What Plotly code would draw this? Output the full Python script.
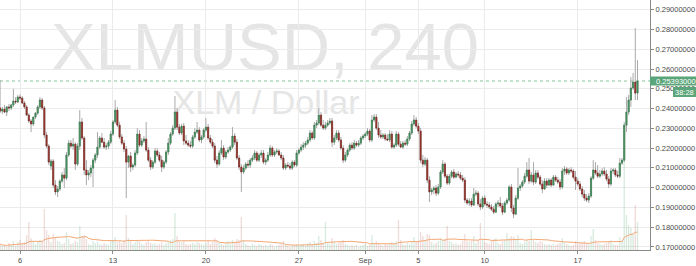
import pandas as pd
import plotly.graph_objects as go

times = pd.date_range("2018-08-04 12:00", periods=289, freq="4h")

open_ = [
    .2403, .2387, .2397, .2382, .2408, .2403, .2418, .2438, .2433, .2458,
    .2453, .2428, .2408, .2367, .2337, .2322, .2357, .2377, .2408, .2443,
    .2403, .2266, .2210, .2109, .2134, .2013, .1978, .1993, .2033, .2064,
    .2048, .2165, .2225, .2210, .2220, .2119, .2210, .2332, .2251, .2089,
    .2064, .2074, .2099, .2139, .2165, .2205, .2251, .2230, .2205, .2210,
    .2230, .2271, .2332, .2392, .2316, .2256, .2225, .2195, .2129, .2160,
    .2104, .2114, .2175, .2271, .2215, .2236, .2246, .2190, .2139, .2104,
    .2129, .2185, .2165, .2139, .2104, .2129, .2180, .2225, .2271, .2301,
    .2382, .2306, .2276, .2311, .2236, .2225, .2215, .2210, .2256, .2281,
    .2291, .2241, .2256, .2291, .2306, .2251, .2230, .2210, .2139, .2119,
    .2175, .2200, .2155, .2180, .2190, .2205, .2261, .2230, .2150, .2104,
    .2079, .2099, .2119, .2114, .2139, .2150, .2175, .2139, .2165, .2175,
    .2129, .2139, .2165, .2200, .2165, .2180, .2185, .2165, .2150, .2099,
    .2114, .2109, .2099, .2129, .2114, .2175, .2190, .2205, .2215, .2225,
    .2241, .2276, .2251, .2316, .2327, .2367, .2316, .2301, .2316, .2327,
    .2337, .2230, .2251, .2276, .2241, .2200, .2139, .2165, .2190, .2215,
    .2200, .2225, .2215, .2225, .2251, .2261, .2271, .2286, .2241, .2342,
    .2357, .2301, .2266, .2256, .2266, .2246, .2241, .2271, .2205, .2215,
    .2271, .2220, .2205, .2225, .2220, .2246, .2276, .2322, .2342, .2311,
    .2286, .2139, .2119, .2139, .2038, .1978, .1988, .1998, .1972, .2003,
    .2079, .2119, .2058, .2023, .2058, .2079, .2053, .2069, .2064, .2048,
    .2038, .1937, .1922, .1932, .1912, .1967, .1972, .1917, .1902, .1947,
    .1917, .1912, .1902, .1891, .1876, .1917, .1922, .1907, .1876, .1922,
    .1937, .2003, .1897, .1866, .1947, .1998, .2008, .2028, .2058, .2089,
    .2033, .2064, .2028, .2074, .2053, .2018, .1993, .2033, .2013, .2038,
    .2013, .2053, .2038, .2028, .2003, .2084, .2094, .2074, .2089, .2084,
    .2053, .2033, .2018, .1993, .1967, .1947, .1937, .1957, .2048, .2089,
    .2074, .2058, .2069, .2084, .2069, .2043, .2018, .2084, .2089, .2064,
    .2058, .2124, .2139, .2316, .2382, .2443, .2504, .2534, .2478,
]

high = [
    .2544, .2408, .2418, .2413, .2423, .2423, .2499, .2458, .2468, .2473,
    .2463, .2438, .2418, .2377, .2347, .2357, .2382, .2418, .2458, .2453,
    .2413, .2281, .2220, .2144, .2144, .2038, .2008, .2043, .2079, .2099,
    .2180, .2241, .2241, .2251, .2230, .2225, .2392, .2352, .2261, .2139,
    .2089, .2114, .2150, .2175, .2281, .2261, .2276, .2251, .2225, .2241,
    .2286, .2342, .2443, .2408, .2332, .2271, .2241, .2210, .2165, .2180,
    .2124, .2190, .2301, .2291, .2251, .2261, .2332, .2205, .2155, .2139,
    .2200, .2200, .2180, .2160, .2139, .2190, .2251, .2281, .2316, .2463,
    .2403, .2322, .2322, .2327, .2266, .2241, .2236, .2266, .2301, .2332,
    .2306, .2266, .2301, .2352, .2322, .2266, .2246, .2225, .2160, .2190,
    .2241, .2215, .2190, .2205, .2215, .2306, .2276, .2246, .2165, .2119,
    .2114, .2129, .2139, .2150, .2165, .2190, .2185, .2175, .2190, .2190,
    .2150, .2180, .2215, .2210, .2190, .2200, .2195, .2180, .2165, .2124,
    .2129, .2124, .2139, .2139, .2190, .2200, .2220, .2230, .2236, .2256,
    .2291, .2286, .2332, .2342, .2403, .2382, .2342, .2332, .2342, .2352,
    .2352, .2266, .2291, .2291, .2256, .2215, .2180, .2200, .2225, .2230,
    .2241, .2236, .2241, .2261, .2271, .2281, .2301, .2296, .2367, .2372,
    .2372, .2332, .2291, .2276, .2276, .2271, .2291, .2286, .2225, .2286,
    .2281, .2236, .2236, .2241, .2261, .2286, .2337, .2367, .2357, .2327,
    .2301, .2165, .2155, .2150, .2058, .1998, .2008, .2013, .2018, .2089,
    .2139, .2129, .2069, .2069, .2089, .2094, .2079, .2084, .2079, .2064,
    .2053, .1947, .1947, .1947, .1998, .1988, .1983, .1942, .1957, .1962,
    .1932, .1927, .1917, .1907, .1927, .1937, .1952, .1922, .1932, .1947,
    .2013, .2018, .1912, .1962, .2099, .2018, .2038, .2074, .2129, .2150,
    .2079, .2129, .2089, .2089, .2064, .2038, .2048, .2048, .2048, .2048,
    .2064, .2064, .2053, .2043, .2099, .2109, .2104, .2099, .2104, .2094,
    .2084, .2048, .2033, .2008, .1988, .1967, .1972, .2058, .2139, .2129,
    .2114, .2089, .2099, .2104, .2089, .2058, .2099, .2099, .2099, .2084,
    .2150, .2150, .2332, .2458, .2468, .2559, .2580, .2807, .2645,
]

low = [
    .2377, .2372, .2377, .2362, .2387, .2392, .2408, .2423, .2428, .2443,
    .2423, .2397, .2362, .2327, .2281, .2311, .2347, .2367, .2397, .2392,
    .2251, .2200, .2114, .2089, .1998, .1962, .1952, .1983, .2023, .1998,
    .2038, .2155, .2200, .2190, .2089, .2109, .2190, .2241, .2064, .2013,
    .2038, .2053, .2003, .2124, .2150, .2195, .2225, .2195, .2190, .2195,
    .2220, .2261, .2322, .2306, .2246, .2215, .2180, .1947, .2099, .2079,
    .2089, .2104, .2165, .2205, .2205, .2225, .2180, .2129, .2089, .2094,
    .2119, .2155, .2129, .2079, .2094, .2119, .2165, .2215, .2261, .2291,
    .2291, .2266, .2266, .2215, .2215, .2205, .2200, .2200, .2246, .2271,
    .2230, .2225, .2246, .2281, .2241, .2220, .2200, .2124, .2099, .2109,
    .2165, .2139, .2144, .2170, .2180, .2195, .2215, .2139, .2089, .1978,
    .2069, .2089, .2099, .2099, .2129, .2139, .2129, .2129, .2150, .2119,
    .2114, .2129, .2155, .2155, .2155, .2170, .2160, .2139, .2089, .2089,
    .2099, .2089, .2089, .2104, .2104, .2165, .2180, .2190, .2200, .2215,
    .2230, .2241, .2241, .2301, .2316, .2306, .2291, .2291, .2306, .2316,
    .2205, .2215, .2241, .2230, .2190, .2124, .2129, .2155, .2180, .2190,
    .2190, .2205, .2205, .2215, .2241, .2251, .2261, .2230, .2230, .2332,
    .2291, .2251, .2246, .2246, .2236, .2236, .2230, .2195, .2195, .2205,
    .2210, .2200, .2195, .2210, .2210, .2236, .2266, .2311, .2301, .2271,
    .2124, .2104, .2109, .2023, .1927, .1962, .1967, .1957, .1962, .1993,
    .2069, .2048, .2013, .2013, .2048, .2043, .2048, .2053, .2038, .2028,
    .1922, .1912, .1907, .1902, .1907, .1957, .1907, .1886, .1891, .1907,
    .1897, .1891, .1881, .1866, .1871, .1902, .1897, .1861, .1871, .1912,
    .1927, .1876, .1846, .1861, .1937, .1983, .1998, .2018, .2048, .2018,
    .2023, .2013, .2018, .2043, .2008, .1972, .1988, .1998, .2008, .2003,
    .2008, .2028, .2018, .1988, .1993, .2064, .2064, .2064, .2074, .2043,
    .1988, .2008, .1983, .1952, .1932, .1927, .1922, .1947, .2038, .2064,
    .2048, .2048, .2058, .2058, .2033, .1998, .2008, .2069, .2053, .2048,
    .2048, .2114, .2129, .2281, .2367, .2408, .2494, .2443, .2443,
]

close = [
    .2387, .2397, .2382, .2408, .2403, .2418, .2438, .2433, .2458, .2453,
    .2428, .2408, .2367, .2337, .2322, .2357, .2377, .2408, .2443, .2403,
    .2266, .2210, .2129, .2134, .2013, .1978, .1993, .2033, .2064, .2048,
    .2165, .2225, .2210, .2220, .2119, .2210, .2332, .2251, .2089, .2064,
    .2074, .2099, .2139, .2165, .2205, .2251, .2230, .2205, .2210, .2230,
    .2271, .2332, .2392, .2316, .2256, .2225, .2195, .2129, .2160, .2104,
    .2114, .2175, .2271, .2215, .2236, .2246, .2190, .2139, .2104, .2129,
    .2185, .2165, .2139, .2104, .2129, .2180, .2225, .2271, .2301, .2382,
    .2306, .2276, .2311, .2236, .2225, .2215, .2210, .2256, .2281, .2291,
    .2241, .2256, .2291, .2306, .2251, .2230, .2210, .2139, .2119, .2175,
    .2200, .2155, .2180, .2190, .2205, .2261, .2230, .2150, .2104, .2079,
    .2099, .2119, .2114, .2139, .2150, .2175, .2139, .2165, .2175, .2129,
    .2139, .2165, .2200, .2165, .2180, .2185, .2165, .2150, .2099, .2114,
    .2109, .2099, .2129, .2114, .2175, .2190, .2205, .2215, .2225, .2241,
    .2276, .2251, .2316, .2327, .2367, .2316, .2301, .2316, .2327, .2337,
    .2230, .2251, .2276, .2241, .2200, .2139, .2165, .2190, .2215, .2200,
    .2225, .2215, .2225, .2251, .2261, .2271, .2286, .2241, .2342, .2357,
    .2301, .2266, .2256, .2266, .2246, .2241, .2271, .2205, .2215, .2271,
    .2220, .2205, .2225, .2220, .2246, .2276, .2322, .2342, .2311, .2286,
    .2139, .2119, .2139, .2038, .1978, .1988, .1998, .1972, .2003, .2079,
    .2119, .2058, .2023, .2058, .2079, .2053, .2069, .2064, .2048, .2038,
    .1937, .1922, .1932, .1912, .1967, .1972, .1917, .1902, .1947, .1917,
    .1912, .1902, .1891, .1876, .1917, .1922, .1907, .1876, .1922, .1937,
    .2003, .1897, .1866, .1947, .1998, .2008, .2028, .2058, .2089, .2033,
    .2064, .2028, .2074, .2053, .2018, .1993, .2033, .2013, .2038, .2013,
    .2053, .2038, .2028, .2003, .2084, .2094, .2074, .2089, .2084, .2053,
    .2033, .2018, .1993, .1967, .1947, .1937, .1957, .2048, .2089, .2074,
    .2058, .2069, .2084, .2069, .2043, .2018, .2084, .2089, .2064, .2058,
    .2124, .2139, .2316, .2382, .2443, .2504, .2534, .2478, .25393,
]

# volume in millions of XLM
volume = [
    0.6, 0.4, 0.5, 0.3, 0.7, 0.5, 0.9, 0.4, 0.8, 1.0,
    0.6, 0.8, 1.5, 2.8, 1.2, 0.9, 0.6, 0.8, 1.0, 0.9,
    4.1, 2.0, 1.5, 0.8, 1.6, 1.3, 0.9, 0.8, 0.6, 0.7,
    1.8, 1.1, 0.6, 0.7, 0.9, 0.8, 2.4, 1.4, 1.5, 1.1,
    0.6, 0.5, 0.9, 0.7, 0.8, 0.6, 0.5, 0.7, 0.6, 0.5,
    0.9, 1.0, 1.3, 0.8, 0.9, 0.7, 1.0, 3.5, 1.2, 0.9,
    0.6, 0.8, 1.0, 0.9, 0.6, 0.5, 0.8, 0.9, 0.7, 0.6,
    0.7, 0.5, 0.6, 0.8, 0.5, 0.7, 0.8, 1.0, 1.1, 3.7,
    1.4, 0.9, 0.8, 0.9, 0.6, 0.5, 0.6, 0.7, 0.6, 0.8,
    0.7, 0.6, 0.5, 0.7, 0.9, 0.6, 0.8, 1.2, 0.9, 0.7,
    0.6, 0.5, 0.8, 0.9, 0.6, 1.0, 0.8, 1.1, 1.0, 3.3,
    1.0, 0.6, 0.5, 0.4, 0.6, 0.5, 0.4, 0.6, 0.5, 0.4,
    0.5, 0.4, 0.6, 0.5, 0.3, 0.4, 0.5, 0.6, 0.9, 0.5,
    0.4, 0.3, 0.4, 0.5, 0.6, 0.4, 0.5, 0.6, 0.4, 0.7,
    0.8, 0.6, 0.9, 0.7, 1.4, 1.0, 0.6, 2.8, 0.7, 0.6,
    1.2, 0.8, 0.6, 0.7, 0.9, 1.0, 0.6, 0.5, 0.4, 0.5,
    0.4, 0.5, 0.3, 0.4, 0.5, 0.6, 0.4, 0.5, 1.5, 0.6,
    0.9, 0.7, 0.5, 0.4, 0.6, 0.5, 0.7, 0.8, 0.6, 0.9,
    3.0, 1.0, 0.6, 0.5, 0.7, 0.6, 0.9, 1.3, 0.8, 0.9,
    1.8, 1.4, 0.9, 1.6, 1.5, 0.8, 0.6, 0.7, 0.9, 1.2,
    1.0, 1.1, 2.4, 0.9, 0.8, 0.6, 0.7, 0.5, 0.6, 0.9,
    1.6, 0.9, 0.8, 0.9, 1.4, 0.7, 1.0, 2.7, 1.0, 0.8,
    0.7, 0.6, 0.9, 1.1, 1.2, 0.7, 0.6, 0.9, 1.0, 1.7,
    1.2, 1.4, 1.3, 1.0, 1.5, 0.7, 0.6, 0.8, 1.0, 0.9,
    2.0, 1.0, 0.8, 0.7, 0.9, 0.8, 0.6, 0.5, 0.6, 0.5,
    0.6, 0.5, 0.6, 0.7, 1.2, 0.8, 0.6, 0.5, 0.4, 0.5,
    0.9, 0.6, 0.7, 0.8, 0.9, 0.7, 0.6, 1.4, 2.1, 1.0,
    0.7, 0.6, 0.5, 0.6, 0.7, 0.9, 1.0, 0.6, 0.5, 0.5,
    1.3, 0.9, 9.0, 3.5, 2.5, 2.2, 1.6, 4.5, 2.8,
]

price_ticks = [0.17, 0.18, 0.19, 0.20, 0.21, 0.22, 0.23, 0.24, 0.25, 0.26, 0.27, 0.28, 0.29]
price_tick_text = [f"{v:.8f}" for v in price_ticks]
date_ticks = ["2018-08-06", "2018-08-13", "2018-08-20", "2018-08-27",
              "2018-09-01", "2018-09-05", "2018-09-10", "2018-09-17"]
date_tick_text = ["6", "13", "20", "27", "Sep", "5", "10", "17"]
last_price = 0.25393
last_price_text = "0.25393000"
countdown = "38:28"
title_text = "XLMUSD, 240"
subtitle_text = "XLM / Dollar"
y_range = [0.16845, 0.2949]
x_range = ["2018-08-04 11:51", "2018-09-22 10:35"]
vol_range = [0, 25]

UP = "#4e9e68"
UP_LINE = "#2f7a48"
DOWN = "#a8382f"
DOWN_LINE = "#7a211b"
FONT = "Liberation Sans, Arial, sans-serif"

vol_ma = pd.Series(volume).rolling(20, min_periods=1).mean()
vol_colors = ["rgba(78,158,104,0.22)" if c >= o else "rgba(168,56,47,0.18)"
              for o, c in zip(open_, close)]
body_hi = [max(o, c) for o, c in zip(open_, close)]
body_lo = [min(o, c) for o, c in zip(open_, close)]

fig = go.Figure()
fig.add_trace(go.Bar(x=times, y=volume, yaxis="y2", marker=dict(color=vol_colors, line=dict(width=0)),
                     width=4 * 3600 * 1000 * 0.6, hoverinfo="skip", showlegend=False))
fig.add_trace(go.Scatter(x=times, y=vol_ma, yaxis="y2", mode="lines",
                         line=dict(color="#f3a874", width=1), hoverinfo="skip", showlegend=False))
# wicks
fig.add_trace(go.Candlestick(
    x=times, open=open_, high=high, low=low, close=close,
    increasing=dict(line=dict(color="#a9a9a9", width=1), fillcolor="rgba(0,0,0,0)"),
    decreasing=dict(line=dict(color="#a9a9a9", width=1), fillcolor="rgba(0,0,0,0)"),
    whiskerwidth=0, hoverinfo="skip", showlegend=False))
# bodies
fig.add_trace(go.Candlestick(
    x=times, open=open_, high=body_hi, low=body_lo, close=close,
    increasing=dict(line=dict(color=UP_LINE, width=0.6), fillcolor=UP),
    decreasing=dict(line=dict(color=DOWN_LINE, width=0.6), fillcolor=DOWN),
    whiskerwidth=0, hoverinfo="skip", showlegend=False))

PLOT_W, PLOT_H = 650, 250
def py(price):
    return (price - y_range[0]) / (y_range[1] - y_range[0])

lp = py(last_price)
shapes = [
    dict(type="rect", xref="paper", yref="paper", x0=50 / PLOT_W, x1=480 / PLOT_W,
         y0=1 - 75 / PLOT_H, y1=1 - 5 / PLOT_H, line=dict(width=0), fillcolor="rgba(0,0,0,0)",
         layer="below",
         label=dict(text=title_text, textposition="middle center",
                    font=dict(size=67, color="#e5e5e5", family=FONT))),
    dict(type="rect", xref="paper", yref="paper", x0=160 / PLOT_W, x1=372 / PLOT_W,
         y0=1 - 118 / PLOT_H, y1=1 - 80 / PLOT_H, line=dict(width=0), fillcolor="rgba(0,0,0,0)",
         layer="below",
         label=dict(text=subtitle_text, textposition="middle center",
                    font=dict(size=34, color="#e5e5e5", family=FONT))),
    dict(type="line", xref="paper", yref="y", x0=0, x1=1, y0=last_price, y1=last_price,
         line=dict(color="#86c49c", width=1, dash="dot"), layer="below"),
    dict(type="rect", xref="paper", yref="paper", x0=1.0, x1=696 / PLOT_W,
         y0=lp - 4.5 / PLOT_H, y1=lp + 4.5 / PLOT_H, line=dict(width=0), fillcolor="#5aa579",
         layer="above"),
    dict(type="rect", xref="paper", yref="paper", x0=673 / PLOT_W, x1=696 / PLOT_W,
         y0=lp - 16 / PLOT_H, y1=lp - 6 / PLOT_H, line=dict(width=0), fillcolor="#5aa579",
         layer="above"),
]
annotations = [
    dict(xref="paper", yref="paper", x=1 + 4 / PLOT_W, y=lp, xanchor="left", yanchor="middle",
         text=last_price_text, showarrow=False, font=dict(size=7.5, color="white", family=FONT)),
    dict(xref="paper", yref="paper", x=684.5 / PLOT_W, y=lp - 11 / PLOT_H, xanchor="center",
         yanchor="middle", text=countdown, showarrow=False,
         font=dict(size=7.5, color="white", family=FONT)),
]

fig.update_layout(
    width=696, height=266,
    margin=dict(l=0, r=46, t=0, b=16, pad=0),
    paper_bgcolor="white", plot_bgcolor="white",
    showlegend=False, hovermode=False, boxgap=0.3,
    font=dict(family=FONT, size=7.5, color="#4a4a4a"),
    xaxis=dict(type="date", range=x_range, tickvals=date_ticks, ticktext=date_tick_text,
               showgrid=True, gridcolor="#ebebeb", gridwidth=1, showline=True, linecolor="#8a8a8a",
               linewidth=1, ticks="outside", ticklen=3, tickcolor="#8a8a8a",
               tickfont=dict(size=7.5, color="#4a4a4a"), rangeslider=dict(visible=False),
               zeroline=False, fixedrange=True),
    yaxis=dict(side="right", range=y_range, tickvals=price_ticks, ticktext=price_tick_text,
               showgrid=True, gridcolor="#ebebeb", gridwidth=1, showline=True, linecolor="#8a8a8a",
               linewidth=1, ticks="outside", ticklen=3, tickcolor="#8a8a8a",
               tickfont=dict(size=7.5, color="#4a4a4a"), zeroline=False, fixedrange=True),
    yaxis2=dict(overlaying="y", range=vol_range, visible=False, fixedrange=True),
    shapes=shapes, annotations=annotations,
)

fig.write_html("out.html")
